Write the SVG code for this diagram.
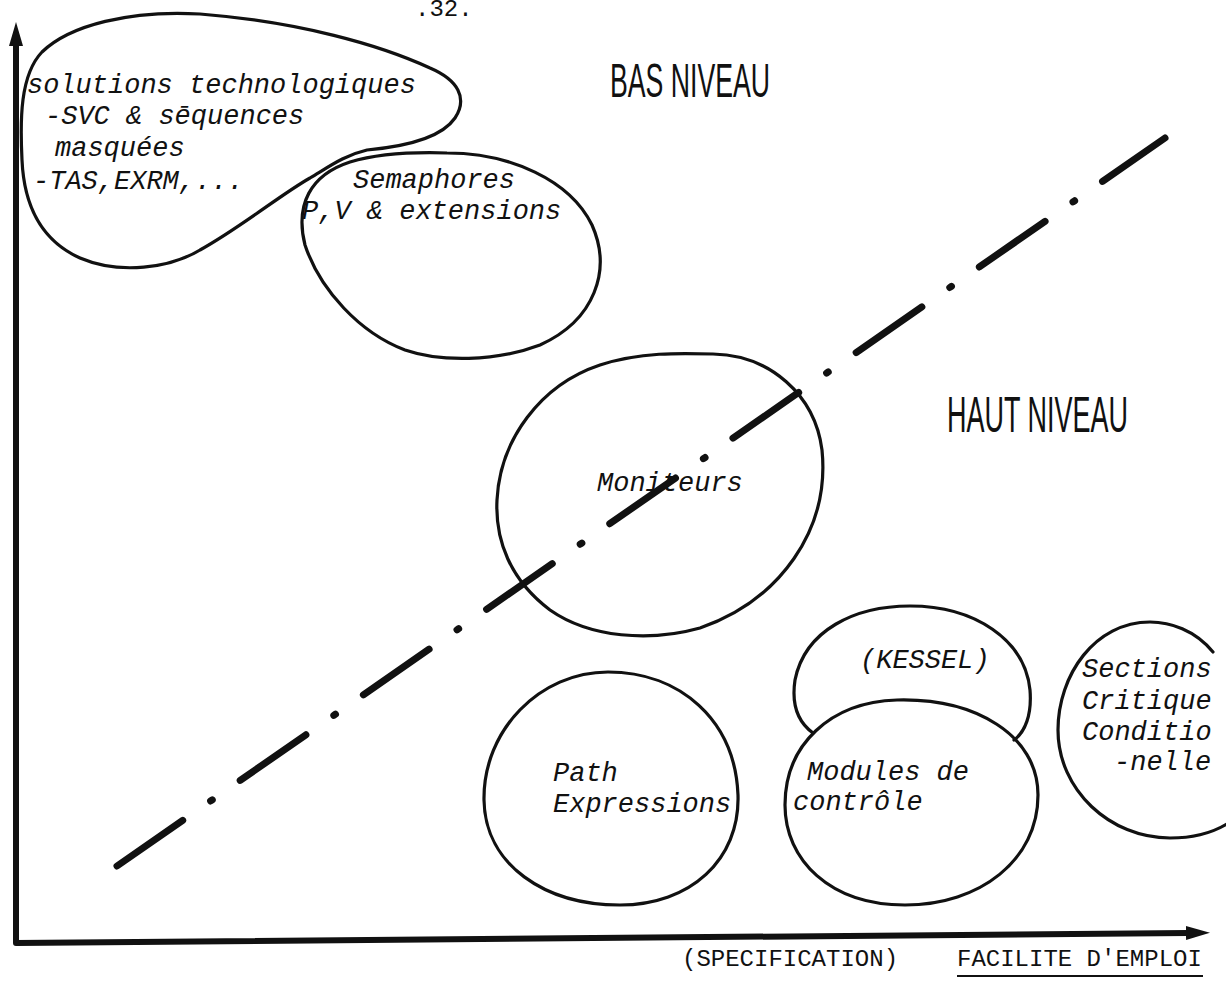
<svg xmlns="http://www.w3.org/2000/svg" width="1226" height="981" viewBox="0 0 1226 981">
<style>
.bg{fill:#ffffff}
.shape{fill:none;stroke:#111;stroke-width:3.2;stroke-linejoin:round;stroke-linecap:round}
.t{font-family:"Liberation Mono","DejaVu Sans Mono",monospace;font-style:italic;font-size:27px;fill:#111}
.tu{font-family:"Liberation Mono","DejaVu Sans Mono",monospace;font-size:24px;fill:#111}
.big{font-family:"Liberation Sans Narrow","Liberation Sans",sans-serif;fill:#111}
.axis{fill:none;stroke:#111;stroke-width:6;stroke-linejoin:round}
.dash{fill:none;stroke:#111;stroke-width:7;stroke-linecap:round;stroke-dasharray:80 34 2 34}
</style>
<defs>
<marker id="arr" viewBox="0 0 24 16" refX="2" refY="8" markerWidth="24" markerHeight="16" markerUnits="userSpaceOnUse" orient="auto-start-reverse">
<path d="M0,1 L24,8 L0,15 Z" fill="#111"/>
</marker>
</defs>
<rect class="bg" x="0" y="0" width="1226" height="981"/>
<text class="tu" x="415" y="16" font-size="27">.32.</text>

<g id="connectors">
<path id="axes" class="axis" d="M16,44 L16,943 L1188,933" marker-start="url(#arr)" marker-end="url(#arr)"/>
<line id="divider" class="dash" x1="117" y1="866" x2="1165" y2="138"/>
</g>

<g id="labels">
<text class="big" x="610" y="97" font-size="48" textLength="160" lengthAdjust="spacingAndGlyphs">BAS NIVEAU</text>
<text class="big" x="947" y="432" font-size="50" textLength="181" lengthAdjust="spacingAndGlyphs">HAUT NIVEAU</text>
<text class="tu" x="682" y="966">(SPECIFICATION)</text>
<text class="tu" x="957" y="966">FACILITE D'EMPLOI</text>
<line x1="957" y1="976" x2="1203" y2="976" stroke="#111" stroke-width="2"/>
</g>

<g id="node-solutions">
<path class="shape" d="M367,150 C400,147 440,140 455,118 C468,98 458,80 430,68 C380,45 300,22 200,14 C130,10 70,25 42,52 C20,75 20,120 22,160 C24,205 40,240 80,258 C120,275 170,268 200,250 C240,228 280,195 310,178 C330,166 345,155 367,150 Z"/>
<text class="t" font-size="26" x="27" y="93">solutions technologiques</text>
<text class="t" font-size="26" x="45" y="124">-SVC &amp; sēquences</text>
<text class="t" font-size="26" x="55" y="156">masquées</text>
<text class="t" font-size="26" x="33" y="189">-TAS,EXRM,...</text>
</g>

<g id="node-semaphores">
<path class="shape" d="M447,153 C510,153 570,180 592,225 C612,270 595,320 540,345 C495,362 440,362 405,350 C360,333 320,290 305,245 C295,205 310,175 350,162 C380,153 415,152 447,153 Z"/>
<text class="t" x="353" y="188">Semaphores</text>
<text class="t" x="302" y="219">P,V &amp; extensions</text>
</g>

<g id="node-moniteurs">
<path class="shape" d="M713,354 C770,355 815,395 822,450 C830,530 780,600 700,628 C650,642 590,638 550,610 C510,580 495,540 497,500 C500,440 540,385 600,365 C640,352 680,353 713,354 Z"/>
<text class="t" x="597" y="491">Moniteurs</text>
</g>

<g id="node-path">
<path class="shape" d="M608,672 C680,672 735,720 738,795 C740,860 690,905 620,905 C545,905 485,865 484,800 C483,730 540,672 608,672 Z"/>
<text class="t" x="553" y="781">Path</text>
<text class="t" x="553" y="812">Expressions</text>
</g>

<g id="node-kessel">
<path class="shape" d="M813,733 C795,720 792,700 795,680 C805,630 855,606 910,606 C975,606 1025,640 1030,690 C1032,715 1025,732 1014,740"/>
<text class="t" x="860" y="668">(KESSEL)</text>
</g>

<g id="node-modules">
<path class="shape" d="M897,700 C975,698 1038,735 1038,795 C1038,860 980,905 905,905 C830,905 785,860 785,805 C785,745 830,702 897,700 Z"/>
<text class="t" x="807" y="780">Modules de</text>
<text class="t" x="793" y="810">contrôle</text>
</g>

<g id="node-sections">
<path class="shape" d="M1213,652 C1195,630 1170,622 1150,622 C1095,622 1058,675 1058,730 C1058,790 1110,838 1170,838 C1195,838 1215,832 1230,822"/>
<text class="t" x="1082" y="677">Sections</text>
<text class="t" x="1082" y="709">Critique</text>
<text class="t" x="1082" y="740">Conditio</text>
<text class="t" x="1114" y="770">-nelle</text>
</g>
</svg>
